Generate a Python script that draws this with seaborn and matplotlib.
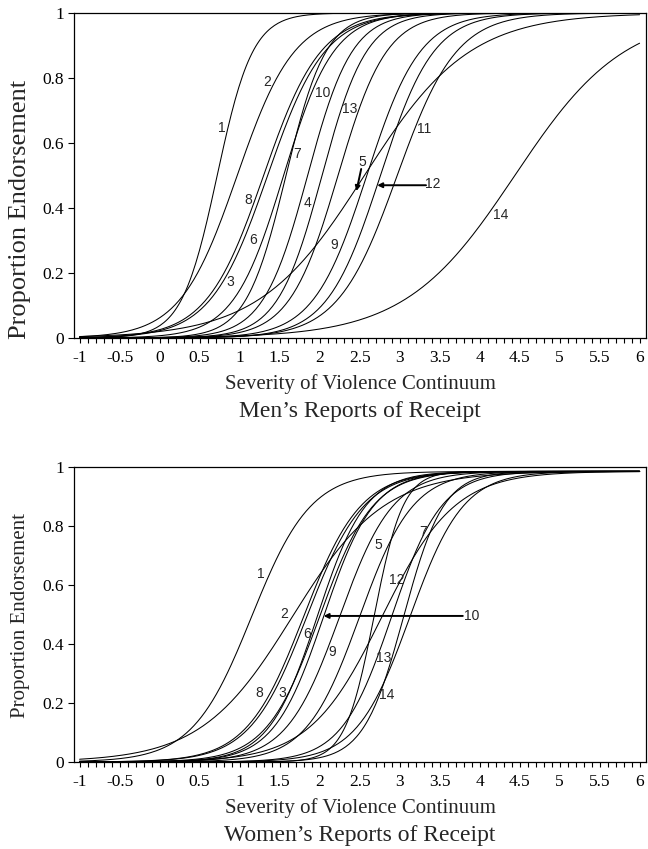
import numpy as np
import pandas as pd
import seaborn as sns
import matplotlib.pyplot as plt
from matplotlib.ticker import MultipleLocator, FuncFormatter

# Item characteristic curves:
# location = severity where the curve crosses .5, slope = steepness there
items = list(range(1, 15))

men_location = [0.72, 0.97, 1.35, 2.03, 2.56, 1.55, 1.58, 1.30, 2.59, 1.85, 2.97, 2.76, 2.23, 4.44]
men_slope = [4.5, 2.8, 2.8, 3.6, 1.52, 3.2, 4.0, 2.8, 3.0, 3.6, 2.7, 3.0, 3.3, 1.46]
men_upper = 1.0

women_location = [1.15, 1.66, 1.97, 1.84, 2.50, 2.00, 2.78, 1.80, 2.25, 2.05, 2.68, 2.90, 3.13, 3.05]
women_slope = [2.7, 1.75, 3.3, 2.8, 3.0, 3.0, 2.2, 2.8, 3.0, 3.2, 5.5, 3.2, 3.0, 4.0]
women_upper = 0.985

# curve labels (item number -> position of the number in the plot)
men_labels = {1: (0.78, 0.645), 2: (1.34, 0.789), 3: (0.88, 0.173), 4: (1.85, 0.414),
              5: (2.54, 0.542), 6: (1.17, 0.30), 7: (1.72, 0.566), 8: (1.11, 0.425),
              9: (2.18, 0.286), 10: (2.04, 0.753), 11: (3.31, 0.642), 12: (3.42, 0.474),
              13: (2.38, 0.704), 14: (4.26, 0.378)}
women_labels = {1: (1.26, 0.638), 2: (1.56, 0.503), 3: (1.53, 0.235), 5: (2.74, 0.737),
                6: (1.85, 0.433), 7: (3.29, 0.78), 8: (1.25, 0.235), 9: (2.16, 0.373),
                10: (3.90, 0.495), 12: (2.97, 0.616), 13: (2.80, 0.352), 14: (2.84, 0.226)}

# pointer arrows: (start, tip)
men_arrows = [((2.52, 0.52), (2.46, 0.452)), ((3.33, 0.47), (2.72, 0.47))]
women_arrows = [((3.79, 0.495), (2.05, 0.495))]

severity = np.linspace(-1, 6, 300)


def curves(location, slope, upper):
    rows = []
    for item, b, a in zip(items, location, slope):
        p = upper / (1 + np.exp(-a * (severity - b)))
        rows.append(pd.DataFrame({'item': item, 'severity': severity, 'p': p}))
    return pd.concat(rows, ignore_index=True)


sns.set_style('ticks')
plt.rcParams['font.family'] = ['Liberation Serif', 'DejaVu Serif']

fig = plt.figure(figsize=(6.48, 8.49), dpi=100)
ax_men = fig.add_axes([0.1142, 0.6019, 0.8827, 0.3828])
ax_women = fig.add_axes([0.1142, 0.1025, 0.8827, 0.3475])

panels = [
    (ax_men, curves(men_location, men_slope, men_upper), men_labels, men_arrows,
     'Men\u2019s Reports of Receipt', 19, 0.397),
    (ax_women, curves(women_location, women_slope, women_upper), women_labels, women_arrows,
     'Women\u2019s Reports of Receipt', 15, 0.495),
]

for ax, df, labels, arrows, title, ylab_size, ylab_y in panels:
    sns.lineplot(data=df, x='severity', y='p', units='item', estimator=None,
                 color='black', lw=0.75, ax=ax)

    for item, (x, y) in labels.items():
        ax.text(x, y, str(item), ha='center', va='center', fontsize=10,
                family=['Liberation Sans', 'DejaVu Sans'])
    for start, tip in arrows:
        ax.annotate('', xy=tip, xytext=start,
                    arrowprops=dict(arrowstyle='-|>', color='black', lw=1.4,
                                    mutation_scale=7, shrinkA=0, shrinkB=0))

    ax.set_xlim(-1.07, 6.08)
    ax.set_ylim(0, 1)
    ax.xaxis.set_major_locator(MultipleLocator(0.5))
    ax.xaxis.set_minor_locator(MultipleLocator(0.1))
    ax.yaxis.set_major_locator(MultipleLocator(0.2))
    fmt = FuncFormatter(lambda v, pos: f'{v:g}')
    ax.xaxis.set_major_formatter(fmt)
    ax.yaxis.set_major_formatter(fmt)
    ax.tick_params(axis='both', which='both', direction='out', width=0.8,
                   colors='black', labelsize=12.5)
    ax.tick_params(axis='x', which='both', length=3.5, pad=5)
    ax.tick_params(axis='y', length=4, pad=3)
    for side in ['top', 'right', 'left', 'bottom']:
        ax.spines[side].set_visible(True)
        ax.spines[side].set_color('black')
        ax.spines[side].set_linewidth(0.9)

    ax.set_xlabel('Severity of Violence Continuum', fontsize=15, labelpad=6)
    ax.set_ylabel('Proportion Endorsement', fontsize=ylab_size, va='center')
    ax.yaxis.set_label_coords(-0.094, ylab_y)
    ax.annotate(title, xy=(0.5, 0), xycoords='axes fraction',
                xytext=(0, -53), textcoords='offset points',
                ha='center', va='center', fontsize=17)

fig.savefig('out.png', dpi=100, facecolor='white')
